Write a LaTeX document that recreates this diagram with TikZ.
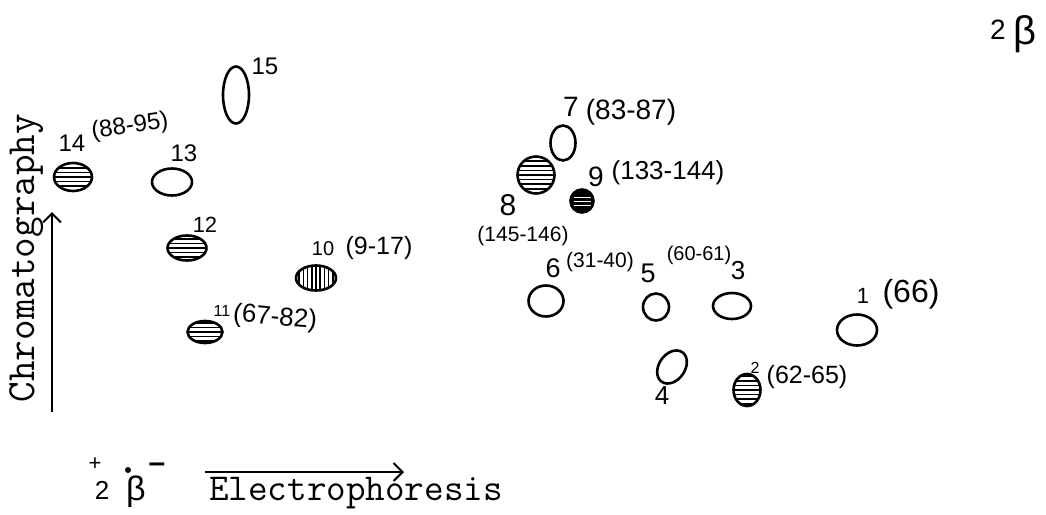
\documentclass[tikz,border=0pt]{standalone}
\usepackage{fontspec}
\setmainfont{Liberation Sans}
\newfontfamily\tw{Latin Modern Mono}
\usetikzlibrary{shapes.geometric,arrows.meta}
\tikzset{
  spot/.style={ellipse, draw, line width=2.6pt, inner sep=0pt, outer sep=0pt},
  hspot/.style={spot, path picture={
      \foreach \k in {-9,...,9}{
        \draw[line width=1.6pt] ([yshift=\k*4.6pt]path picture bounding box.west) -- ([yshift=\k*4.6pt]path picture bounding box.east);}}},
  vspot/.style={spot, path picture={
      \foreach \k in {-9,...,9}{
        \draw[line width=1.6pt] ([xshift=\k*4.2pt]path picture bounding box.south) -- ([xshift=\k*4.2pt]path picture bounding box.north);}}},
  dspot/.style={spot, path picture={
      \fill[black] (path picture bounding box.south west) rectangle (path picture bounding box.north east);
      \foreach \k in {-1,0,1}{
        \draw[white, line width=0.9pt] ([yshift=\k*4pt, xshift=3pt]path picture bounding box.west) -- ([yshift=\k*4pt, xshift=-3pt]path picture bounding box.east);}}},
  lbl/.style={inner sep=0pt, font=\fontsize{#1}{#1}\selectfont},
  lbl/.default=22,
  axis/.style={line width=2pt, -{Straight Barb[length=9pt,width=18pt,line width=2pt]}},
  tt/.style={inner sep=0pt, font=\tw\fontsize{#1}{#1}\selectfont}
}
\begin{document}
\begin{tikzpicture}[x=1pt,y=-1pt]
\useasboundingbox (0,0) rectangle (1046,514);

% spots
\node[hspot, minimum width=38pt, minimum height=28pt] (s14) at (73,177) {};
\node[spot, minimum width=40pt, minimum height=27pt] (s13) at (172,182) {};
\node[spot, minimum width=26pt, minimum height=57pt] (s15) at (236,95) {};
\node[hspot, minimum width=39pt, minimum height=25pt] (s12) at (187,248) {};
\node[vspot, minimum width=40pt, minimum height=25pt] (s10) at (316,278) {};
\node[hspot, minimum width=35pt, minimum height=22pt] (s11) at (205,332) {};
\node[spot, minimum width=25pt, minimum height=35pt] (s7) at (563,143) {};
\node[hspot, minimum width=37pt, minimum height=37pt] (s8) at (536,175) {};
\node[dspot, minimum width=23pt, minimum height=23pt] (s9) at (582,201) {};
\node[spot, minimum width=35pt, minimum height=31pt] (s6) at (546,301) {};
\node[spot, minimum width=26pt, minimum height=27pt] (s5) at (656,307) {};
\node[spot, minimum width=38pt, minimum height=26pt] (s3) at (732,306) {};
\node[spot, minimum width=40pt, minimum height=31pt] (s1) at (857,330) {};
\node[spot, minimum width=26pt, minimum height=36pt, rotate=-35] (s4) at (672,367) {};
\node[hspot, minimum width=27pt, minimum height=32pt] (s2) at (747,390) {};

% labels
\node[lbl=24] (l15) at (265,66) {15};
\node[lbl=24] (l14) at (72,143) {14};
\node[lbl=24, rotate=8] (r14) at (130,127) {(88-95)};
\node[lbl=24] (l13) at (184,153) {13};
\node[lbl=22] (l12) at (205,225) {12};
\node[lbl=20] (l10) at (323,249) {10};
\node[lbl=25] (r10) at (379,248) {(9-17)};
\node[lbl=16] (l11) at (222,311) {11};
\node[lbl=26, rotate=-5] (r11) at (275,318) {(67-82)};
\node[lbl=28] (l7) at (571,107) {7};
\node[lbl=28] (r7) at (631,112) {(83-87)};
\node[lbl=28] (l9) at (596,177) {9};
\node[lbl=26] (r9) at (668,173) {(133-144)};
\node[lbl=30] (l8) at (508,205) {8};
\node[lbl=21] (r8) at (523,236) {(145-146)};
\node[lbl=27] (l6) at (553,268) {6};
\node[lbl=21] (r6) at (600,262) {(31-40)};
\node[lbl=27] (l5) at (648,273) {5};
\node[lbl=20] (r5) at (699,255) {(60-61)};
\node[lbl=26] (l3) at (738,271) {3};
\node[lbl=22] (l1) at (863,296) {1};
\node[lbl=32] (r1) at (911,294) {(66)};
\node[lbl=26] (l4) at (662,396) {4};
\node[lbl=16] (l2) at (755,368) {2};
\node[lbl=25] (r2) at (807,377) {(62-65)};

% top right mark
\node[lbl=28] (tr2) at (998,30) {2};
\node[lbl=40] (trb) at (1025,34) {β};

% chromatography axis
\coordinate (cA) at (52,412);
\coordinate (cB) at (52,212);
\draw[axis] (cA) -- (cB);
\node[tt=40, rotate=90, anchor=base] (chrom) at (34,258) {Chromatography};

% electrophoresis axis
\coordinate (eA) at (205,472);
\coordinate (eB) at (404,472);
\draw[axis] (eA) -- (eB);
\node[tt=38, anchor=base west] (elec) at (209,500) {Electrophoresis};

% +2beta- mark
\node[lbl=22] (bp) at (95,464) {+};
\node[lbl=26] (b2) at (102,490) {2};
\node[lbl=34] (bb) at (136,492) {β};
\fill (128,470) circle (3pt);
\node[lbl=30] (bm) at (157,468) {\textbf{–}};
\end{tikzpicture}
\end{document}
